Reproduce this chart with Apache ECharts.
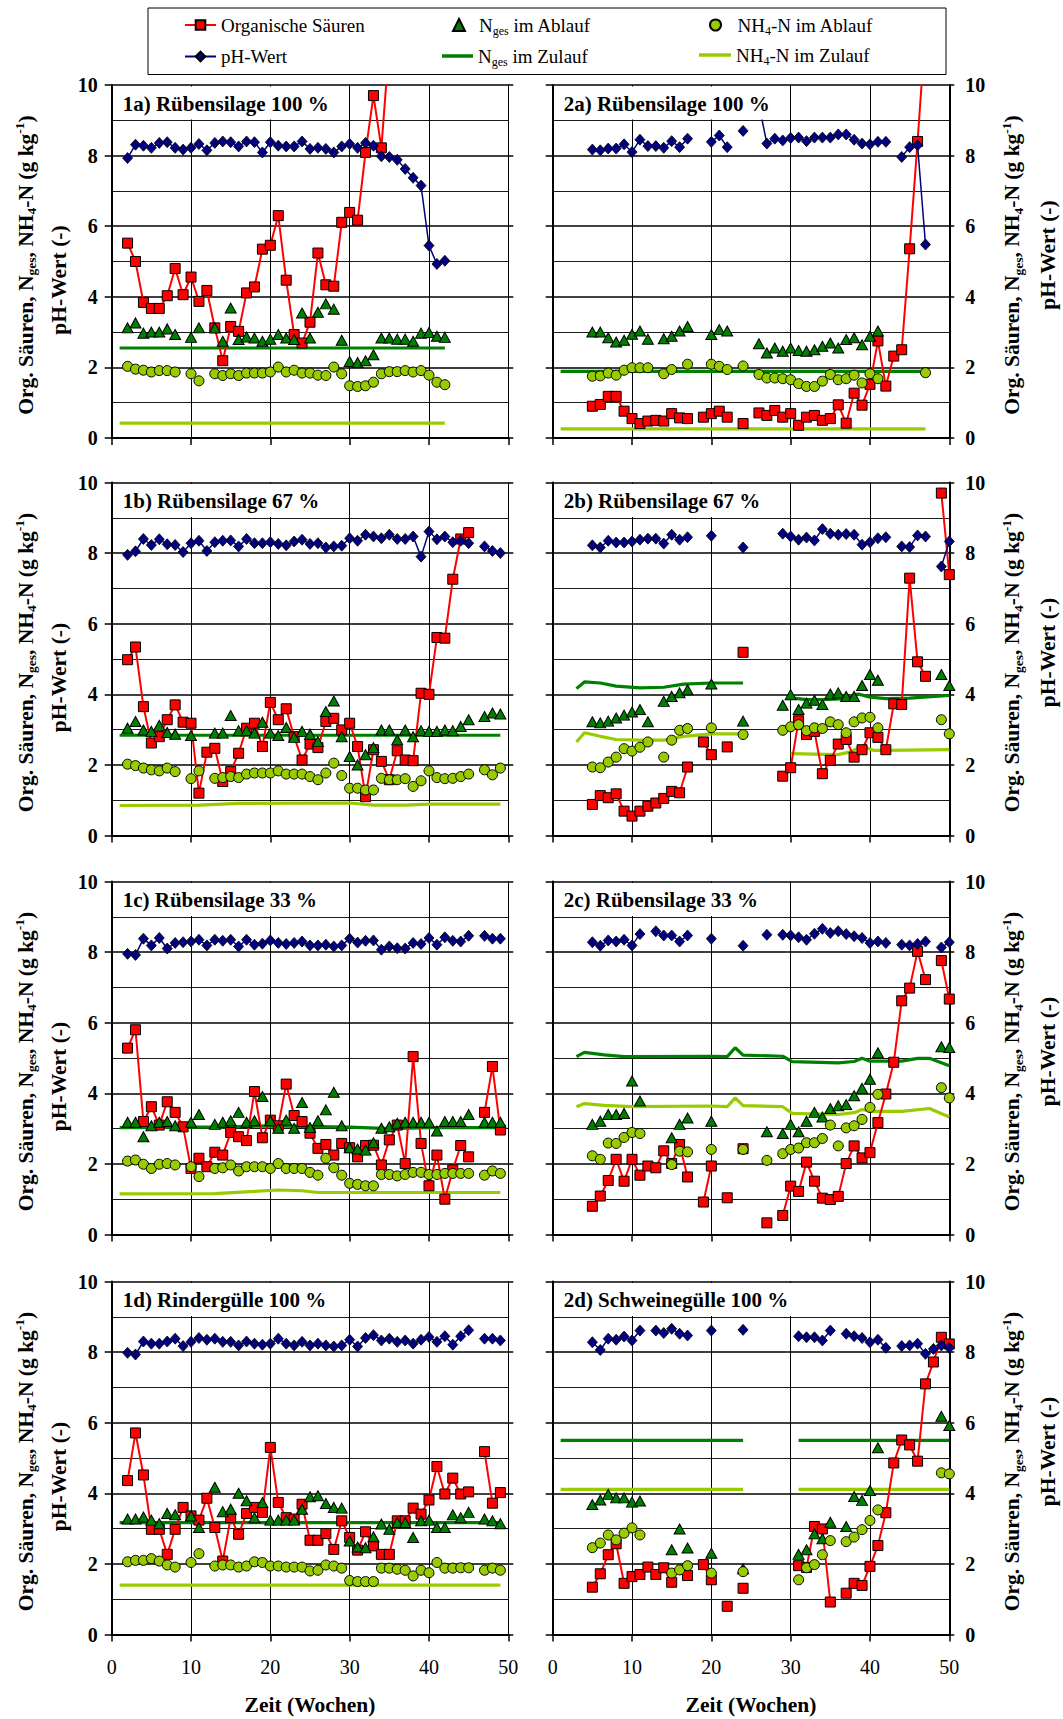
<!DOCTYPE html>
<html>
<head>
<meta charset="utf-8">
<script src="https://cdn.jsdelivr.net/npm/echarts@6/dist/echarts.min.js"></script>
<style>
html, body { margin: 0; padding: 0; background: #fff; }
#chart { width: 1063px; height: 1719px; }
</style>
</head>
<body>
<div id="chart"></div>
<script>
// Weekly measurements, one value per week starting at the panel's first week (null = no sample).
// Zulauf (inflow) curves are given as [week, value] break points.

// ---- 1a) Rübensilage 100 % ----
const start1a = 2;
const saeuren1a = [5.52, 5.0, 3.84, 3.67, 3.67, 4.03, 4.8, 4.06, 4.56, 3.87, 4.18, 3.12, 2.19, 3.16, 3.02, 4.11, 4.28, 5.35, 5.46, 6.3, 4.47, 2.93, 2.69, 3.28, 5.24, 4.34, 4.3, 6.11, 6.39, 6.17, 8.09, 9.7, 8.22, 11.2];
const ph1a = [7.93, 8.31, 8.28, 8.22, 8.36, 8.38, 8.22, 8.17, 8.22, 8.33, 8.15, 8.36, 8.4, 8.38, 8.26, 8.4, 8.38, 8.09, 8.38, 8.28, 8.26, 8.26, 8.4, 8.19, 8.22, 8.19, 8.09, 8.26, 8.33, 8.22, 8.36, 8.28, 7.98, 7.96, 7.88, 7.62, 7.37, 7.15, 5.45, 4.93, 5.02];
const ngesAb1a = [3.12, 3.26, 2.97, 3.0, 3.0, 3.09, 2.93, null, 2.85, 3.12, null, 3.12, 2.74, 3.68, 2.79, 2.86, 2.83, 2.74, 2.8, 2.93, 2.83, 2.79, 3.54, 2.83, 3.56, 3.8, 3.65, 2.77, 2.17, 2.14, 2.19, 2.36, 2.83, 2.83, 2.8, 2.8, 2.74, 2.97, 2.99, 2.88, 2.85];
const nh4Ab1a = [2.03, 1.95, 1.92, 1.87, 1.91, 1.91, 1.87, null, 1.82, 1.62, null, 1.82, 1.77, 1.82, 1.77, 1.84, 1.84, 1.84, 1.87, 2.01, 1.87, 1.92, 1.84, 1.84, 1.78, 1.77, 2.01, 1.82, 1.48, 1.46, 1.48, 1.58, 1.82, 1.88, 1.88, 1.91, 1.87, 1.91, 1.78, 1.58, 1.51];
const ngesZu1a = [[1, 2.55], [42, 2.55]];
const nh4Zu1a = [[1, 0.42], [42, 0.42]];

// ---- 1b) Rübensilage 67 % ----
const start1b = 2;
const saeuren1b = [4.98, 5.34, 3.65, 2.62, 2.8, 3.28, 3.7, 3.21, 3.18, 1.2, 2.36, 2.47, 1.53, 1.81, 2.33, 3.04, 3.18, 2.52, 3.77, 3.28, 3.59, 2.8, 2.14, 2.59, 2.49, 3.23, 3.32, 2.99, 3.18, 2.52, 1.1, 2.43, 2.1, 1.58, 2.4, 2.14, 2.12, 4.03, 4.0, 5.61, 5.59, 7.26, 8.4, 8.58];
const ph1b = [7.95, 8.05, 8.4, 8.23, 8.39, 8.25, 8.23, 8.03, 8.28, 8.35, 8.06, 8.31, 8.35, 8.36, 8.19, 8.4, 8.28, 8.28, 8.31, 8.26, 8.22, 8.33, 8.38, 8.26, 8.28, 8.16, 8.19, 8.21, 8.42, 8.35, 8.52, 8.47, 8.42, 8.52, 8.4, 8.4, 8.47, 7.9, 8.61, 8.39, 8.47, 8.31, 8.35, 8.28, null, 8.19, 8.06, 8.0];
const ngesAb1b = [3.04, 3.23, 2.99, 2.95, 3.12, 2.92, 2.87, null, 2.83, null, null, 2.9, 2.9, 3.4, 2.97, 2.97, 2.9, 3.21, 2.9, 2.83, 3.06, 2.78, 2.95, 2.87, 2.66, 3.51, 3.81, 2.8, 2.24, 2.0, 2.29, 2.49, 2.99, 2.99, 2.71, 2.99, 2.8, 2.97, 2.95, 2.95, 2.99, 2.97, 3.09, 3.28, null, 3.37, 3.47, 3.44];
const nh4Ab1b = [2.02, 1.98, 1.91, 1.86, 1.83, 1.91, 1.81, null, 1.61, 1.83, null, 1.62, 1.64, 1.67, 1.64, 1.74, 1.77, 1.77, 1.77, 1.83, 1.74, 1.74, 1.74, 1.67, 1.58, 1.77, 2.05, 1.7, 1.34, 1.34, 1.29, 1.29, 1.62, 1.58, 1.58, 1.61, 1.39, 1.55, 1.83, 1.64, 1.61, 1.62, 1.67, 1.74, null, 1.86, 1.72, 1.91];
const ngesZu1b = [[1, 2.84], [49, 2.84]];
const nh4Zu1b = [[1, 0.85], [11, 0.86], [16, 0.91], [30, 0.92], [33, 0.86], [37, 0.86], [40, 0.89], [49, 0.89]];

// ---- 1c) Rübensilage 33 % ----
const start1c = 2;
const saeuren1c = [5.28, 5.8, 3.2, 3.62, 3.1, 3.76, 3.46, 3.05, 1.87, 2.16, 1.92, 2.33, 2.25, 2.89, 2.77, 2.66, 4.05, 2.74, 3.24, 3.08, 4.26, 3.37, 3.2, 2.87, 2.44, 2.55, 2.25, 2.58, 2.46, 2.2, 2.52, 2.53, 1.97, 2.68, 3.1, 2.01, 5.04, 2.58, 1.38, 2.25, 1.0, 1.83, 2.52, 2.2, null, 3.46, 4.76, 2.96];
const ph1c = [7.95, 7.92, 8.38, 8.19, 8.4, 8.1, 8.26, 8.28, 8.3, 8.35, 8.19, 8.35, 8.32, 8.35, 8.16, 8.35, 8.21, 8.24, 8.33, 8.26, 8.23, 8.26, 8.3, 8.19, 8.19, 8.21, 8.16, 8.19, 8.38, 8.27, 8.32, 8.33, 8.07, 8.16, 8.11, 8.1, 8.26, 8.23, 8.4, 8.21, 8.42, 8.32, 8.3, 8.46, null, 8.46, 8.38, 8.38];
const ngesAb1c = [3.18, 3.18, 2.77, 3.08, 3.18, 3.2, 3.08, null, 3.18, 3.4, null, 3.12, 3.18, 3.22, 3.46, 3.18, 3.22, 3.91, 3.22, 3.01, 3.24, 3.01, 3.74, 3.03, 3.22, 3.53, 4.03, 3.08, 2.46, 2.42, 2.39, 2.6, 3.01, 3.05, 3.15, 3.18, 3.18, 3.18, 3.18, 2.93, 3.2, 3.2, 3.2, 3.4, null, 3.18, 3.18, 3.18];
const nh4Ab1c = [2.08, 2.11, 1.99, 1.87, 1.99, 2.01, 1.97, null, 1.92, 1.64, null, 1.87, 1.89, 1.97, 1.8, 1.92, 1.92, 1.92, 1.87, 2.01, 1.87, 1.87, 1.87, 1.76, 1.68, 2.16, 1.89, 1.68, 1.45, 1.42, 1.38, 1.38, 1.7, 1.7, 1.66, 1.7, 1.76, 1.76, 1.7, 1.7, 1.73, 1.73, 1.73, 1.73, null, 1.68, 1.8, 1.73];
const ngesZu1c = [[1, 3.03], [15, 3.05], [20, 3.08], [30, 3.04], [35, 3.0], [40, 3.03], [49, 3.03]];
const nh4Zu1c = [[1, 1.15], [13, 1.16], [18, 1.22], [21, 1.26], [24, 1.24], [26, 1.19], [49, 1.19]];

// ---- 1d) Rindergülle 100 % ----
const start1d = 2;
const saeuren1d = [4.36, 5.71, 4.52, 2.98, 2.98, 2.27, 2.98, 3.6, 3.36, 3.24, 3.86, 3.03, 2.08, 3.31, 2.84, 3.43, 3.6, 3.46, 5.3, 3.74, 3.31, 3.27, 3.69, 2.67, 2.67, 2.86, 2.41, 3.22, 2.75, 2.39, 2.91, 2.51, 2.27, 2.27, 3.22, 3.22, 3.58, 3.41, 3.81, 4.76, 3.98, 4.43, 3.98, 4.04, null, 5.18, 3.72, 4.02];
const ph1d = [7.98, 7.93, 8.3, 8.24, 8.24, 8.3, 8.38, 8.17, 8.29, 8.4, 8.35, 8.38, 8.29, 8.29, 8.19, 8.3, 8.24, 8.21, 8.24, 8.38, 8.24, 8.19, 8.29, 8.19, 8.24, 8.19, 8.16, 8.19, 8.35, 8.16, 8.4, 8.48, 8.33, 8.38, 8.29, 8.33, 8.24, 8.35, 8.43, 8.29, 8.45, 8.21, 8.45, 8.62, null, 8.38, 8.38, 8.33];
const ngesAb1d = [3.27, 3.27, 3.33, 3.24, 3.14, 3.43, 3.39, null, 3.36, 3.03, null, 4.17, 3.48, 3.55, 4.0, 3.79, 3.31, 3.74, 3.24, 3.24, 3.24, 3.24, 3.55, 3.9, 3.93, 3.71, 3.6, 3.58, 2.65, 2.48, 2.46, 2.77, 3.13, 2.98, 3.17, 3.17, 2.75, 3.22, 3.24, 3.03, 3.03, 3.39, 3.31, 3.46, null, 3.27, 3.22, 3.14];
const nh4Ab1d = [2.06, 2.1, 2.1, 2.15, 2.08, 1.97, 1.91, null, 2.04, 2.29, null, 1.94, 1.97, 1.97, 1.91, 1.94, 2.06, 2.04, 1.94, 1.94, 1.91, 1.91, 1.91, 1.8, 1.82, 1.97, 1.94, 1.88, 1.53, 1.5, 1.5, 1.5, 1.88, 1.88, 1.85, 1.82, 1.66, 1.82, 1.75, 2.04, 1.88, 1.88, 1.89, 1.89, null, 1.82, 1.88, 1.82];
const ngesZu1d = [[1, 3.17], [49, 3.17]];
const nh4Zu1d = [[1, 1.4], [49, 1.4]];

// ---- 2a) Rübensilage 100 % ----
const start2a = 5;
const saeuren2a = [0.9, 0.95, 1.18, 1.18, 0.76, 0.55, 0.41, 0.48, 0.5, 0.48, 0.69, 0.57, 0.55, null, 0.59, 0.69, 0.76, 0.59, null, 0.41, null, 0.71, 0.64, 0.78, 0.59, 0.69, 0.36, 0.59, 0.64, 0.5, 0.55, 0.94, 0.42, 1.27, 0.93, 1.52, 2.75, 1.47, 2.32, 2.5, 5.36, 8.4, 11.6];
const ph2a = [8.17, 8.15, 8.2, 8.2, 8.32, 8.1, 8.45, 8.27, 8.27, 8.22, 8.41, 8.24, 8.48, null, null, 8.39, 8.57, 8.24, null, 8.7, null, 9.45, 8.34, 8.48, 8.43, 8.5, 8.51, 8.41, 8.51, 8.51, 8.51, 8.6, 8.6, 8.45, 8.34, 8.32, 8.39, 8.39, null, 7.96, 8.24, 8.29, 5.48];
const ngesAb2a = [3.0, 3.0, 2.84, 2.72, 2.77, 2.94, 3.03, 2.8, null, 2.81, 2.88, 3.03, 3.16, null, null, 2.93, 3.07, 3.03, null, null, null, 2.67, 2.41, 2.55, 2.46, 2.55, 2.48, 2.46, 2.5, 2.6, 2.69, 2.55, 2.79, 2.84, 2.64, 2.88, 3.03];
const nh4Ab2a = [1.75, 1.76, 1.84, 1.78, 1.92, 1.99, 1.99, 1.99, null, 1.82, 1.94, null, 2.09, null, null, 2.09, 2.03, 1.94, null, 2.04, null, 1.8, 1.7, 1.7, 1.68, 1.65, 1.54, 1.46, 1.46, 1.61, 1.8, 1.65, 1.68, 1.78, 1.56, 1.82, 1.68, null, null, null, null, null, 1.85];
const ngesZu2a = [[1, 1.89], [47, 1.89]];
const nh4Zu2a = [[1, 0.26], [47, 0.26]];

// ---- 2b) Rübensilage 67 % ----
const start2b = 5;
const saeuren2b = [0.88, 1.13, 1.07, 1.18, 0.69, 0.55, 0.69, 0.83, 0.92, 1.05, 1.25, 1.21, 1.94, null, 2.65, 2.29, null, 2.51, null, 5.19, null, null, null, null, 1.68, 1.92, 3.25, 2.86, 2.95, 1.75, 2.13, 2.59, 2.72, 2.22, 2.43, 2.91, 2.78, 2.43, 3.73, 3.71, 7.29, 4.92, 4.51, null, 9.7, 7.39];
const ph2b = [8.22, 8.16, 8.35, 8.3, 8.3, 8.33, 8.38, 8.41, 8.41, 8.27, 8.52, 8.38, 8.45, null, null, 8.49, null, null, null, 8.16, null, null, null, null, 8.55, 8.47, 8.38, 8.44, 8.36, 8.68, 8.55, 8.52, 8.54, 8.52, 8.24, 8.31, 8.42, 8.45, null, 8.19, 8.17, 8.5, 8.47, null, 7.62, 8.33];
const ngesAb2b = [3.22, 3.19, 3.24, 3.33, 3.41, 3.5, 3.57, 3.22, null, 3.8, 3.94, 4.04, 4.13, null, null, 4.29, null, null, null, 3.24, null, null, null, null, 3.69, 3.99, 3.57, 3.75, 3.83, 3.71, 4.01, 4.04, 3.94, 3.94, 4.25, 4.56, 4.4, null, null, null, null, null, null, null, 4.56, 4.25];
const nh4Ab2b = [1.94, 1.92, 2.08, 2.22, 2.46, 2.39, 2.5, 2.65, null, 2.22, 2.7, 2.98, 3.03, null, null, 3.05, null, null, null, 2.86, null, null, null, null, 2.98, 3.08, 3.14, 2.97, 3.05, 3.03, 3.22, 3.14, 2.91, 3.22, 3.33, 3.35, 3.05, null, null, null, null, null, null, null, 3.28, 2.88];
const ngesZu2b = [[3, 4.16], [4, 4.35], [6, 4.32], [8, 4.23], [11, 4.18], [14, 4.2], [16.5, 4.29], [20, 4.32], [24, 4.32], [27, null], [30, 3.9], [32, 3.85], [34, 3.85], [37, 3.88], [38.5, 4.01], [40, 3.92], [42, 3.88], [45, 3.89], [50, 3.97]];
const nh4Zu2b = [[3, 2.65], [4, 2.91], [6, 2.81], [8, 2.72], [11, 2.7], [14, 2.7], [16.5, 2.81], [20, 2.88], [24, 2.88], [27, null], [30, 2.32], [36, 2.29], [37.5, 2.37], [39, 2.53], [40.5, 2.41], [42, 2.41], [50, 2.43]];

// ---- 2c) Rübensilage 33 % ----
const start2c = 5;
const saeuren2c = [0.8, 1.09, 1.53, 2.13, 1.51, 2.13, 1.68, 1.94, 1.89, 2.37, 2.01, 2.55, 1.63, null, 0.92, 1.94, null, 1.04, null, 2.43, null, null, 0.33, null, 0.54, 1.37, 1.22, 2.05, 1.51, 1.03, 0.99, 1.08, 2.01, 2.51, 2.17, 2.32, 3.17, 3.98, 4.88, 6.62, 6.98, 8.02, 7.22, null, 7.76, 6.67];
const ph2c = [8.28, 8.18, 8.33, 8.3, 8.35, 8.19, 8.51, null, 8.59, 8.47, 8.47, 8.3, 8.47, null, null, 8.38, null, null, null, 8.18, null, null, 8.49, null, 8.49, 8.47, 8.42, 8.35, 8.52, 8.66, 8.54, 8.59, 8.51, 8.45, 8.4, 8.26, 8.3, 8.26, null, 8.21, 8.19, 8.23, 8.3, null, 8.13, 8.28];
const ngesAb2c = [3.12, 3.21, 3.4, 3.4, 3.43, 4.35, 3.78, null, null, null, 2.74, 3.12, 3.3, null, null, 3.21, null, null, null, null, null, null, 2.91, null, 2.86, 3.12, 2.91, 3.21, 3.46, 3.33, 3.57, 3.65, 3.68, 3.93, 4.14, 4.4, 5.15, null, null, null, null, null, null, null, 5.32, 5.3];
const nh4Ab2c = [2.23, 2.13, 2.59, 2.58, 2.75, 2.89, 2.86, null, null, null, 1.98, 2.36, 2.34, null, null, 2.41, null, null, null, 2.41, null, null, 2.1, null, 2.29, 2.41, 2.45, 2.6, 2.6, 2.72, 3.1, 2.51, 3.02, 3.08, 3.26, 3.6, 3.97, null, null, null, null, null, null, null, 4.16, 3.87];
const ngesZu2c = [[3, 5.04], [4, 5.16], [6.5, 5.09], [9, 5.04], [20, 5.05], [22, 5.04], [23, 5.29], [24, 5.08], [29, 5.05], [30.2, 4.9], [36, 4.86], [38, 4.9], [39, 4.99], [40, 4.91], [44, 4.91], [46, 4.99], [47.5, 4.99], [50, 4.78]];
const nh4Zu2c = [[3, 3.62], [4, 3.71], [6.5, 3.66], [10, 3.62], [20, 3.64], [22, 3.62], [23, 3.87], [24, 3.65], [29, 3.62], [30.2, 3.43], [36, 3.4], [38, 3.45], [39, 3.54], [40, 3.49], [44, 3.49], [47.5, 3.57], [50, 3.33]];

// ---- 2d) Schweinegülle 100 % ----
const start2d = 5;
const saeuren2d = [1.34, 1.72, 2.26, 2.57, 1.45, 1.64, 1.7, 1.91, 1.7, 1.89, 1.48, null, 1.67, null, 1.98, 1.55, null, 0.8, null, 1.31, null, null, null, null, null, null, 1.95, 1.9, 3.06, 2.99, 0.92, null, 1.17, 1.45, 1.39, 1.93, 2.52, 3.45, 4.86, 5.51, 5.37, 4.91, 7.1, 7.72, 8.42, 8.23];
const ph2d = [8.28, 8.06, 8.38, 8.35, 8.44, 8.33, 8.61, null, 8.61, 8.54, 8.66, 8.52, 8.47, null, null, 8.61, null, null, null, 8.63, null, null, null, null, null, null, 8.45, 8.42, 8.42, 8.33, 8.61, null, 8.52, 8.45, 8.4, 8.28, 8.35, 8.12, null, 8.17, 8.19, 8.24, 7.95, 8.09, 8.19, 8.12];
const ngesAb2d = [3.68, 3.81, 3.97, 3.87, 3.87, 3.75, 3.78, null, null, null, 2.4, 2.99, 2.45, null, null, 2.3, null, null, null, 1.86, null, null, null, null, null, null, 2.27, 2.4, 2.85, 2.71, 3.18, null, 3.06, 3.91, 3.8, 4.08, 5.29, null, null, null, null, null, null, null, 6.18, 5.92];
const nh4Ab2d = [2.46, 2.59, 2.82, 2.68, 2.87, 3.02, 2.82, null, null, null, 1.74, 1.83, 1.95, null, null, 1.74, null, null, null, 1.78, null, null, null, null, null, null, 1.55, 1.89, 1.98, 2.26, 2.66, null, 2.63, 2.76, 2.97, 3.23, 3.53, null, null, null, null, null, null, null, 4.58, 4.55];
const ngesZu2d = [[1, 5.5], [24, 5.5], [27, null], [31, 5.5], [50, 5.5]];
const nh4Zu2d = [[1, 4.11], [24, 4.11], [27, null], [31, 4.11], [50, 4.11]];

// Axis ticks
const xTicks = [0, 10, 20, 30, 40, 50];
const yTicks = [0, 2, 4, 6, 8, 10];

// Series names
const NAME_OS = 'Organische Säuren';
const NAME_PH = 'pH-Wert';
const NAME_NA = 'Nges im Ablauf';
const NAME_NZ = 'Nges im Zulauf';
const NAME_HA = 'NH4-N im Ablauf';
const NAME_HZ = 'NH4-N im Zulauf';

const panels = [
  { title: '1a) Rübensilage 100 %', start: start1a, os: saeuren1a, ph: ph1a, na: ngesAb1a, ha: nh4Ab1a, nz: ngesZu1a, hz: nh4Zu1a },
  { title: '2a) Rübensilage 100 %', start: start2a, os: saeuren2a, ph: ph2a, na: ngesAb2a, ha: nh4Ab2a, nz: ngesZu2a, hz: nh4Zu2a },
  { title: '1b) Rübensilage 67 %', start: start1b, os: saeuren1b, ph: ph1b, na: ngesAb1b, ha: nh4Ab1b, nz: ngesZu1b, hz: nh4Zu1b },
  { title: '2b) Rübensilage 67 %', start: start2b, os: saeuren2b, ph: ph2b, na: ngesAb2b, ha: nh4Ab2b, nz: ngesZu2b, hz: nh4Zu2b },
  { title: '1c) Rübensilage 33 %', start: start1c, os: saeuren1c, ph: ph1c, na: ngesAb1c, ha: nh4Ab1c, nz: ngesZu1c, hz: nh4Zu1c },
  { title: '2c) Rübensilage 33 %', start: start2c, os: saeuren2c, ph: ph2c, na: ngesAb2c, ha: nh4Ab2c, nz: ngesZu2c, hz: nh4Zu2c },
  { title: '1d) Rindergülle 100 %', start: start1d, os: saeuren1d, ph: ph1d, na: ngesAb1d, ha: nh4Ab1d, nz: ngesZu1d, hz: nh4Zu1d },
  { title: '2d) Schweinegülle 100 %', start: start2d, os: saeuren2d, ph: ph2d, na: ngesAb2d, ha: nh4Ab2d, nz: ngesZu2d, hz: nh4Zu2d }
];

// ---- layout ----
const FONT = '"Liberation Serif", "Times New Roman", serif';
const colLeft = [111.7, 552.7];
const plotW = 396.6;
const rowTop = [85, 482.5, 881.5, 1281.5];
const plotH = 353;

const C_RED = '#ff0000', C_NAVY = '#000080', C_GREEN = '#008000', C_LIME = '#99cc00';

function weekly(start, values) {
  return values.map((v, i) => [start + i, v === null ? '-' : v]);
}
function points(list) {
  return list.map(p => [p[0], p[1] === null ? '-' : p[1]]);
}

const grids = [], xAxes = [], yAxes = [], series = [], titles = [];

panels.forEach((p, k) => {
  const row = Math.floor(k / 2), col = k % 2;
  const gl = colLeft[col], gt = rowTop[row];
  grids.push({ left: gl, top: gt, width: plotW, height: plotH, outerBoundsMode: 'none', containLabel: false });

  xAxes.push({
    gridIndex: k, type: 'value', min: xTicks[0], max: xTicks[xTicks.length - 1], interval: 10,
    axisLine: { show: true, onZero: false, lineStyle: { color: '#000', width: 2 } },
    axisTick: { show: true, length: 7, lineStyle: { color: '#000', width: 1.5 } },
    axisLabel: { show: row === 3, margin: 22, fontFamily: FONT, fontSize: 20, color: '#000',
      showMinLabel: true, showMaxLabel: true },
    splitLine: { show: true, lineStyle: { color: '#000', width: 1 } },
    name: row === 3 ? 'Zeit (Wochen)' : '',
    nameLocation: 'middle', nameGap: 59,
    nameTextStyle: { fontFamily: FONT, fontWeight: 'bold', fontSize: 21.5, color: '#000' }
  });

  const yBase = {
    gridIndex: k, type: 'value', min: yTicks[0], max: yTicks[yTicks.length - 1], interval: 2
  };
  yAxes.push(Object.assign({}, yBase, {
    position: 'left',
    axisLine: { show: true, onZero: false, lineStyle: { color: '#000', width: 2 } },
    axisTick: { show: true, length: 7, lineStyle: { color: '#000', width: 1.5 } },
    minorTick: { show: false, splitNumber: 2 },
    axisLabel: { show: col === 0, margin: 14, fontFamily: FONT, fontWeight: 'bold', fontSize: 20, color: '#000',
      showMinLabel: true, showMaxLabel: true },
    splitLine: { show: true, lineStyle: { color: '#000', width: 1.5 } },
    minorSplitLine: { show: true, lineStyle: { color: '#000', width: 0.9 } }
  }));
  yAxes.push(Object.assign({}, yBase, {
    position: 'right',
    axisLine: { show: true, onZero: false, lineStyle: { color: '#000', width: col === 1 ? 2 : 1 } },
    axisTick: { show: true, length: 5, lineStyle: { color: '#000', width: 1.5 } },
    axisLabel: { show: col === 1, margin: 16, fontFamily: FONT, fontWeight: 'bold', fontSize: 20, color: '#000',
      showMinLabel: true, showMaxLabel: true },
    splitLine: { show: false }
  }));

  const common = { xAxisIndex: k, yAxisIndex: 2 * k, silent: true, animation: false, clip: true };

  series.push(Object.assign({}, common, {
    type: 'line', name: NAME_NZ, data: points(p.nz), symbol: 'none', connectNulls: false, z: 2,
    lineStyle: { color: C_GREEN, width: 3.2 }, itemStyle: { color: C_GREEN }
  }));
  series.push(Object.assign({}, common, {
    type: 'line', name: NAME_HZ, data: points(p.hz), symbol: 'none', connectNulls: false, z: 2,
    lineStyle: { color: C_LIME, width: 3.2 }, itemStyle: { color: C_LIME }
  }));
  series.push(Object.assign({}, common, {
    type: 'line', name: NAME_OS, data: weekly(p.start, p.os), symbol: 'rect', symbolSize: 10,
    showSymbol: true, showAllSymbol: true, connectNulls: false, z: 3,
    lineStyle: { color: C_RED, width: 2 }, itemStyle: { color: C_RED, borderColor: '#000', borderWidth: 1 }
  }));
  series.push(Object.assign({}, common, {
    type: 'scatter', name: NAME_NA, data: weekly(p.start, p.na), symbol: 'triangle', symbolSize: [11, 10], z: 4,
    itemStyle: { color: C_GREEN, borderColor: '#000', borderWidth: 1, opacity: 1 }
  }));
  series.push(Object.assign({}, common, {
    type: 'scatter', name: NAME_HA, data: weekly(p.start, p.ha), symbol: 'circle', symbolSize: 10, z: 5,
    itemStyle: { color: C_LIME, borderColor: '#000', borderWidth: 1, opacity: 1 }
  }));
  series.push(Object.assign({}, common, {
    type: 'line', name: NAME_PH, data: weekly(p.start, p.ph), symbol: 'diamond', symbolSize: [10, 11],
    showSymbol: true, showAllSymbol: true, connectNulls: false, z: 6,
    lineStyle: { color: C_NAVY, width: 1.5 }, itemStyle: { color: C_NAVY, borderColor: '#000', borderWidth: 0.8 }
  }));

  titles.push({
    text: p.title, left: gl + 2, top: gt + 1.5, padding: [5, 12, 4, 9], backgroundColor: '#fff', z: 10,
    textStyle: { fontFamily: FONT, fontWeight: 'bold', fontSize: 21, lineHeight: 24, color: '#000' }
  });
});

// ---- legend ----
const legendText = {};
legendText[NAME_OS] = '{t|Organische Säuren}';
legendText[NAME_PH] = '{t|pH-Wert}';
legendText[NAME_NA] = '{t|N}{s|ges}{t| im Ablauf}';
legendText[NAME_NZ] = '{t|N}{s|ges}{t| im Zulauf}';
legendText[NAME_HA] = '{t|NH}{s|4}{t|-N im Ablauf}';
legendText[NAME_HZ] = '{t|NH}{s|4}{t|-N im Zulauf}';
const legendRich = {
  t: { fontFamily: FONT, fontSize: 19, lineHeight: 24, color: '#000' },
  s: { fontFamily: FONT, fontSize: 12, lineHeight: 12, verticalAlign: 'bottom', color: '#000' }
};
function legendEntry(name, left, top, itemWidth, itemHeight, icon, textShift) {
  const l = {
    data: [name], left: left, top: top, itemWidth: itemWidth, itemHeight: itemHeight, itemGap: 0,
    padding: 0, selectedMode: false, z: 20,
    formatter: n => legendText[n],
    textStyle: { fontFamily: FONT, fontSize: 19, color: '#000', rich: legendRich,
      padding: [0, 0, 0, textShift || 0] }
  };
  if (icon) l.icon = icon;
  return l;
}
const legends = [
  legendEntry(NAME_OS, 184, 15.5, 31, 12),
  legendEntry(NAME_PH, 184, 47, 31, 12),
  legendEntry(NAME_NA, 452, 15.5, 12, 12, 'triangle', 9),
  legendEntry(NAME_NZ, 442, 46.5, 31, 3.5, 'rect'),
  legendEntry(NAME_HA, 709, 15.5, 11, 11, 'circle', 11.5),
  legendEntry(NAME_HZ, 699, 45.5, 32, 3.5, 'rect')
];

// ---- vertical axis titles ----
const axisRich = {
  t: { fontFamily: FONT, fontWeight: 'bold', fontSize: 21.5, lineHeight: 26, color: '#000' },
  s: { fontFamily: FONT, fontWeight: 'bold', fontSize: 13.5, lineHeight: 13, verticalAlign: 'bottom', color: '#000' },
  p: { fontFamily: FONT, fontWeight: 'bold', fontSize: 13.5, lineHeight: 13, verticalAlign: 'top', color: '#000' }
};
const axisLine1 = '{t|Org. Säuren, N}{s|ges}{t|, NH}{s|4}{t|-N (g kg}{p|-1}{t|)}';
const axisLine2 = '{t|pH-Wert (-)}';
function vText(x, y, text) {
  return { type: 'text', x: x, y: y, rotation: Math.PI / 2, silent: true, z: 5,
    style: { text: text, rich: axisRich, align: 'center', verticalAlign: 'middle' } };
}
const graphics = [
  { type: 'rect', shape: { x: 148, y: 8, width: 798, height: 66.5 }, silent: true, z: 0,
    style: { fill: '#fff', stroke: '#000', lineWidth: 1 } }
];
rowTop.forEach(t => {
  graphics.push(vText(25.5, t + 180, axisLine1));
  graphics.push(vText(59, t + 195, axisLine2));
  graphics.push(vText(1012, t + 180, axisLine1));
  graphics.push(vText(1048, t + 170, axisLine2));
});

const chart = echarts.init(document.getElementById('chart'), null, { renderer: 'svg', width: 1063, height: 1719 });
chart.setOption({
  animation: false,
  backgroundColor: '#fff',
  title: titles,
  legend: legends,
  grid: grids,
  xAxis: xAxes,
  yAxis: yAxes,
  series: series,
  graphic: graphics
});
</script>
</body>
</html>
